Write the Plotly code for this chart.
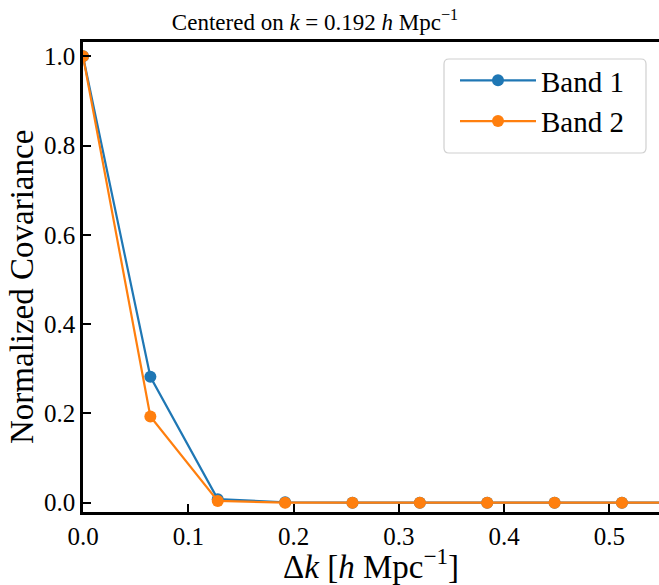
import plotly.graph_objects as go

delta_k = [0.0, 0.064, 0.128, 0.192, 0.256, 0.32, 0.384, 0.448, 0.512, 0.576]
band1 = [1.0, 0.282, 0.008, 0.001, 0.0, 0.0, 0.0, 0.0, 0.0, 0.0]
band2 = [1.0, 0.193, 0.004, 0.0, 0.0, 0.0, 0.0, 0.0, 0.0, 0.0]
x_ticks = [0.0, 0.1, 0.2, 0.3, 0.4, 0.5]
y_ticks = [0.0, 0.2, 0.4, 0.6, 0.8, 1.0]

FONT = "Liberation Serif"
W, H = 659, 585
L, T, R, B = 83, 42, 0, 73
PW, PH = W - L - R, H - T - B


def px_to_paper(px, py):
    return (px - L) / PW, (H - B - py) / PH


def rounded_rect(x0, y0, x1, y1, r):
    def p(x, y):
        a, b = px_to_paper(x, y)
        return f"{a:.5f},{b:.5f}"
    return (f"M{p(x0 + r, y0)} L{p(x1 - r, y0)} Q{p(x1, y0)} {p(x1, y0 + r)} "
            f"L{p(x1, y1 - r)} Q{p(x1, y1)} {p(x1 - r, y1)} "
            f"L{p(x0 + r, y1)} Q{p(x0, y1)} {p(x0, y1 - r)} "
            f"L{p(x0, y0 + r)} Q{p(x0, y0)} {p(x0 + r, y0)} Z")


fig = go.Figure()
fig.add_trace(go.Scatter(x=delta_k, y=band1, mode="lines+markers", name="Band 1",
                         line=dict(color="#1f77b4", width=2.2),
                         marker=dict(color="#1f77b4", size=12)))
fig.add_trace(go.Scatter(x=delta_k, y=band2, mode="lines+markers", name="Band 2",
                         line=dict(color="#ff7f0e", width=2.2),
                         marker=dict(color="#ff7f0e", size=12)))

lx, ly = px_to_paper(455, 55)
fig.add_shape(type="path", xref="paper", yref="paper",
              path=rounded_rect(444, 59, 646, 153, 5),
              line=dict(color="#d0d0d0", width=1.2),
              fillcolor="rgba(255,255,255,0.8)", layer="above")

# y-axis title as a rotated annotation so it can sit where the reference puts it
yt_x, yt_y = px_to_paper(22, 287)
fig.add_annotation(text="Normalized Covariance", xref="paper", yref="paper",
                   x=yt_x, y=yt_y, xanchor="center", yanchor="middle",
                   textangle=-90, showarrow=False,
                   font=dict(family=FONT, size=33, color="black"))

fig.update_layout(
    width=W, height=H,
    margin=dict(l=L, r=R, t=T, b=B, autoexpand=False),
    plot_bgcolor="white", paper_bgcolor="white",
    font=dict(family=FONT, color="black", size=25),
    title=dict(text="Centered on <i>k</i> = 0.192 <i>h</i> Mpc<sup>−1</sup>",
               x=315 / W, xanchor="center", y=1 - 22 / H, yanchor="middle",
               font=dict(family=FONT, size=23, color="black")),
    legend=dict(x=lx, y=ly, xanchor="left", yanchor="top",
                bgcolor="rgba(0,0,0,0)", borderwidth=0,
                font=dict(family=FONT, size=29, color="black"),
                itemwidth=76),
    showlegend=True,
)
fig.update_xaxes(range=[0, 0.5472], tickvals=x_ticks, tickformat=".1f",
                 ticks="inside", ticklen=8, tickwidth=2, tickcolor="black",
                 showline=True, linecolor="black", linewidth=2.5, mirror=True,
                 showgrid=False, zeroline=False, automargin=False,
                 tickfont=dict(family=FONT, size=25),
                 title=dict(text="Δ<i>k</i> [<i>h</i> Mpc<sup>−1</sup>]",
                            font=dict(family=FONT, size=33), standoff=1))
fig.update_yaxes(range=[-0.0208, 1.032], tickvals=y_ticks, tickformat=".1f",
                 ticks="inside", ticklen=8, tickwidth=2, tickcolor="black",
                 showline=True, linecolor="black", linewidth=2.5, mirror=False,
                 showgrid=False, zeroline=False, automargin=False,
                 tickfont=dict(family=FONT, size=25))

fig.write_html("out.html", config={"displayModeBar": False},
               post_script="document.body.style.margin='0';")
